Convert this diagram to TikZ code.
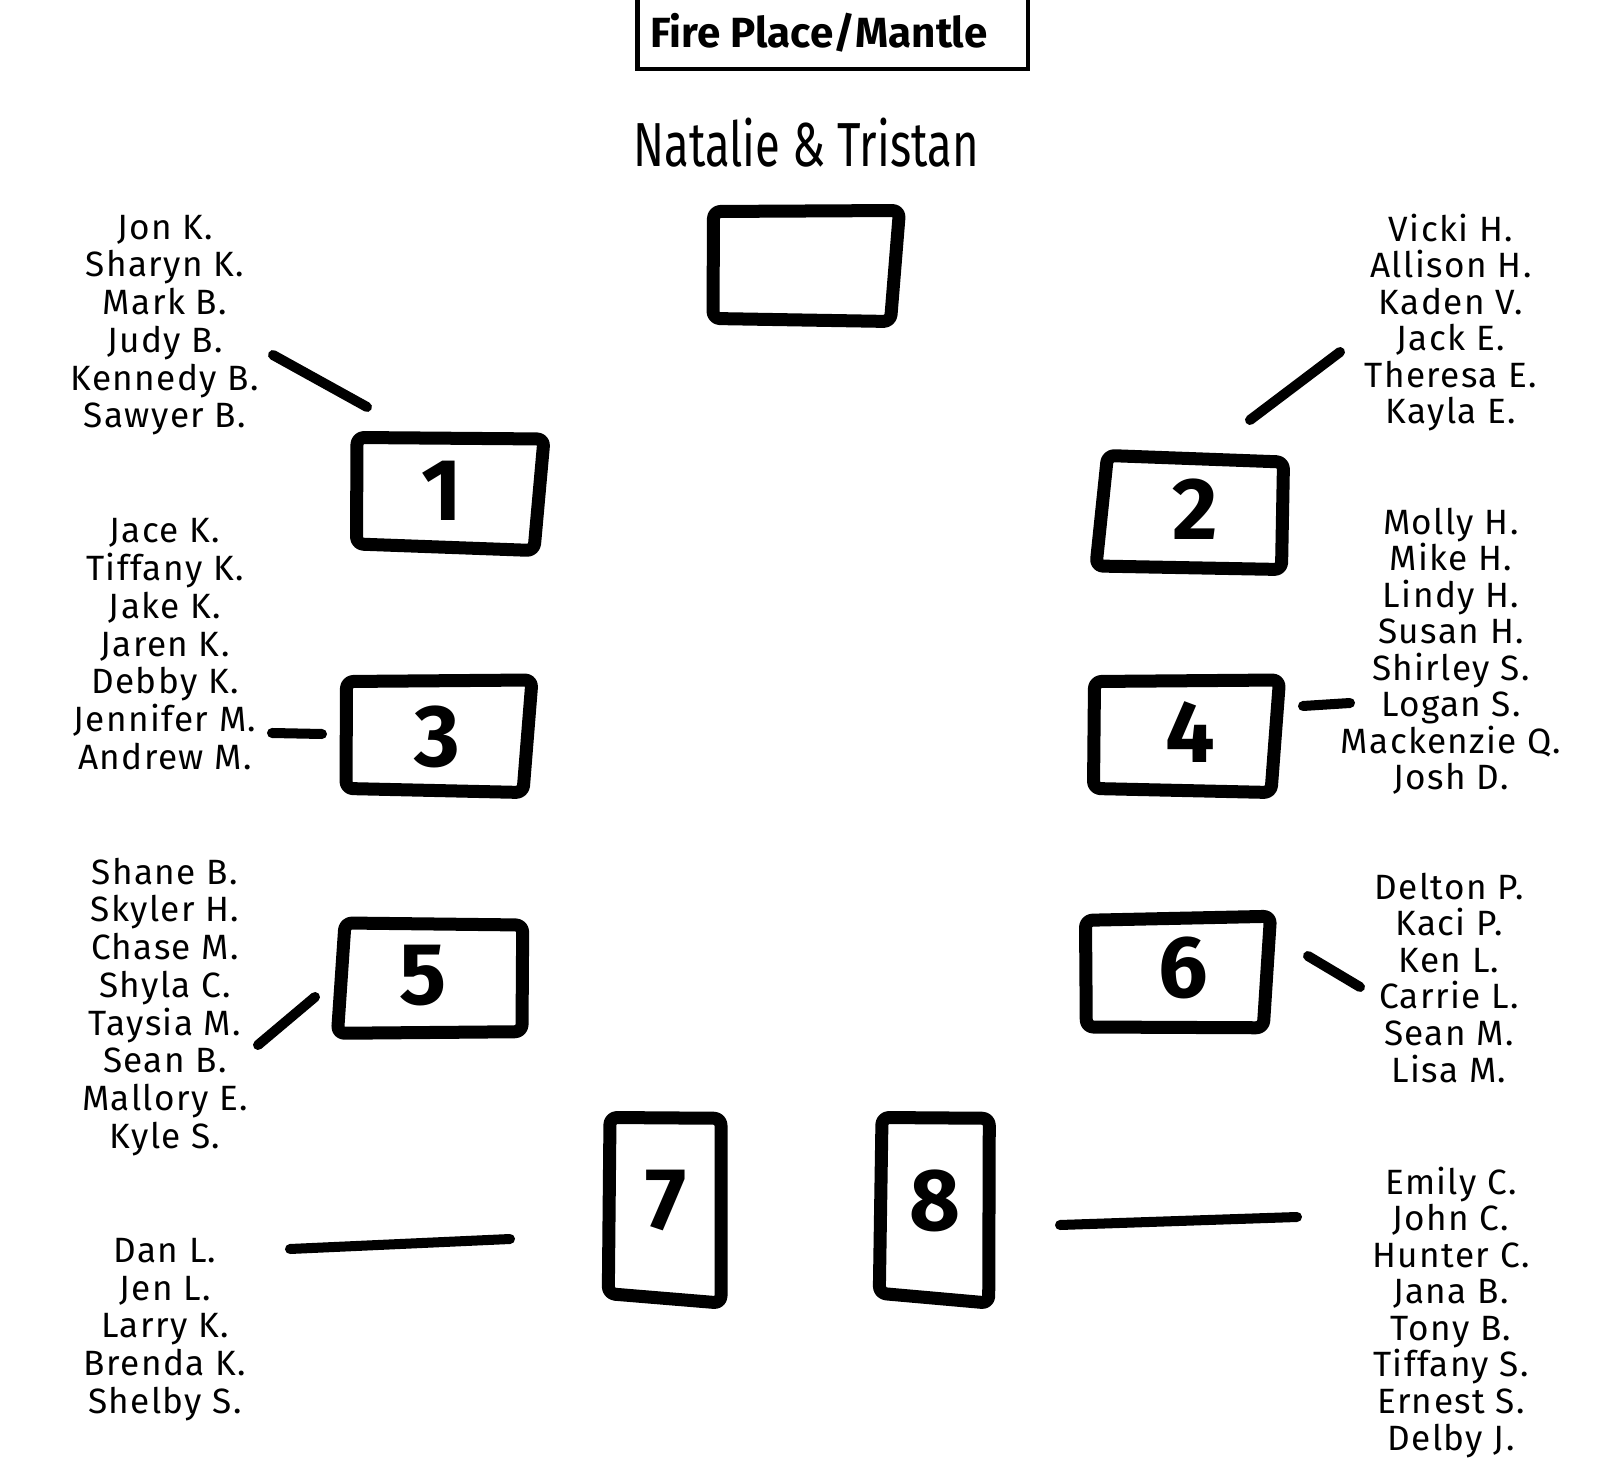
\documentclass[tikz,border=0pt]{standalone}
\usepackage{fontspec}
\setmainfont{Fira Sans}
\newfontfamily\guestfont[LetterSpace=4]{Fira Sans}

\begin{document}
\begin{tikzpicture}[
x=0.1mm,y=-0.1mm,
tbl/.style={line width=3.7pt,rounded corners=2pt,line join=round},
link/.style={line width=2.85pt,line cap=round},
guests/.style={align=center,anchor=base,inner sep=0pt,font=\guestfont\fontsize{10}{#1}\selectfont},
guests/.default=10.75,
num/.style={inner sep=0pt,font=\fontsize{25}{25}\selectfont\bfseries}
]
\useasboundingbox (0,0) rectangle (1623,1480);

% fire place and head table
\draw[line width=1.3pt] (637.5,-20) rectangle (1028,69);
\node[anchor=base,inner sep=0pt,font=\fontsize{12}{12}\selectfont\bfseries] (fp) at (819,48) {Fire Place/Mantle};
\node[anchor=base,inner sep=0pt,xscale=0.73,font=\fontsize{17.7}{17.7}\selectfont] (bride) at (806,167) {Natalie \& Tristan};
\draw[tbl] (713.5,211.5) -- (899.5,210.5) -- (890.5,321.5) -- (713,318.5) -- cycle;

% tables
\draw[tbl] (357,437.5) -- (544,439) -- (534,550.5) -- (356.5,544) -- cycle;
\draw[tbl] (1107.5,455.5) -- (1283.5,462) -- (1281.5,569.5) -- (1096,566) -- cycle;
\draw[tbl] (346.5,681.5) -- (532,680) -- (523,792.5) -- (346,788.5) -- cycle;
\draw[tbl] (1094.5,681.5) -- (1279.5,680) -- (1271,792.5) -- (1093.5,788.5) -- cycle;
\draw[tbl] (345,923) -- (522.7,925) -- (522,1031.7) -- (337.5,1033.3) -- cycle;
\draw[tbl] (1085.5,920.3) -- (1270.5,916.3) -- (1263.3,1027.8) -- (1086.3,1027) -- cycle;
\draw[tbl] (610,1117.5) -- (721,1118.3) -- (721,1303) -- (608.3,1293.7) -- cycle;
\draw[tbl] (882,1117.5) -- (989.3,1118.3) -- (988.7,1303) -- (879.3,1293.3) -- cycle;

\node[num] (n1) at (442,491) {1};
\node[num] (n2) at (1195,509) {2};
\node[num] (n3) at (437,737) {3};
\node[num] (n4) at (1190,732) {4};
\node[num] (n5) at (423,976) {5};
\node[num] (n6) at (1183,968) {6};
\node[num] (n7) at (666,1201) {7};
\node[num] (n8) at (935,1201) {8};

% guests (anchored at the last line)
\node[guests] (g1) at (165,428) {Jon K.\\Sharyn K.\\Mark B.\\Judy B.\\Kennedy B.\\Sawyer B.};
\node[guests] (g3) at (165,769.5) {Jace K.\\Tiffany K.\\Jake K.\\Jaren K.\\Debby K.\\Jennifer M.\\Andrew M.};
\node[guests] (g5) at (165,1148.5) {Shane B.\\Skyler H.\\Chase M.\\Shyla C.\\Taysia M.\\Sean B.\\Mallory E.\\Kyle S.};
\node[guests] (g7) at (165,1413.5) {Dan L.\\Jen L.\\Larry K.\\Brenda K.\\Shelby S.};
\node[guests=10.4] (g2) at (1451,424) {Vicki H.\\Allison H.\\Kaden V.\\Jack E.\\Theresa E.\\Kayla E.};
\node[guests=10.4] (g4) at (1451,790) {Molly H.\\Mike H.\\Lindy H.\\Susan H.\\Shirley S.\\Logan S.\\Mackenzie Q.\\Josh D.};
\node[guests=10.4] (g6) at (1449,1082) {Delton P.\\Kaci P.\\Ken L.\\Carrie L.\\Sean M.\\Lisa M.};
\node[guests=10.4] (g8) at (1451,1450) {Emily C.\\John C.\\Hunter C.\\Jana B.\\Tony B.\\Tiffany S.\\Ernest S.\\Delby J.};

% pointers
\coordinate (l1a) at (273,355); \coordinate (l1b) at (367,407);
\coordinate (l2a) at (1250,420); \coordinate (l2b) at (1340,352);
\coordinate (l3a) at (272,733); \coordinate (l3b) at (322,734);
\coordinate (l4a) at (1303,706); \coordinate (l4b) at (1350,703);
\coordinate (l5a) at (258,1045); \coordinate (l5b) at (315,997);
\coordinate (l6a) at (1308,956); \coordinate (l6b) at (1360,987);
\coordinate (l7a) at (290,1249); \coordinate (l7b) at (510,1239);
\coordinate (l8a) at (1060,1225); \coordinate (l8b) at (1297,1217);
\draw[link] (l1a) -- (l1b);
\draw[link] (l2a) -- (l2b);
\draw[link] (l3a) -- (l3b);
\draw[link] (l4a) -- (l4b);
\draw[link] (l5a) -- (l5b);
\draw[link] (l6a) -- (l6b);
\draw[link] (l7a) -- (l7b);
\draw[link] (l8a) -- (l8b);
\end{tikzpicture}
\end{document}
